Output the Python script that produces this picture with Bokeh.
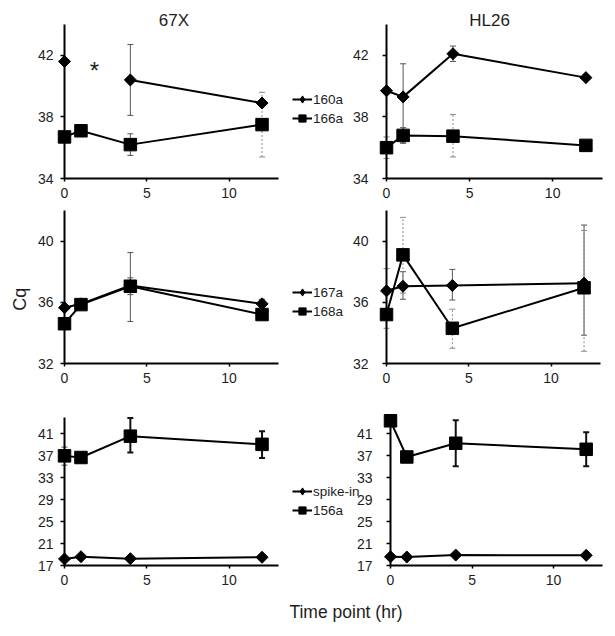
import math
from bokeh.plotting import figure
from bokeh.models import (ColumnDataSource, Whisker, TeeHead, Legend, LegendItem,
                          Label, FixedTicker, Range1d)
from bokeh.layouts import column, row
from bokeh.embed import file_html
from bokeh.resources import INLINE

NaN = float("nan")

# ---------------- data ----------------
time_hr = [0, 1, 4, 12]
x_ticks = [0, 5, 10]
strains = ["67X", "HL26"]

# row 1: 160a / 166a
cq_67X_160a = [41.6, NaN, 40.4, 38.9]
lo_67X_160a = [NaN, NaN, 38.1, NaN]
hi_67X_160a = [NaN, NaN, 42.7, NaN]
cq_67X_166a = [36.7, 37.1, 36.2, 37.5]
lo_67X_166a = [NaN, 36.8, 35.5, 35.4]
hi_67X_166a = [NaN, 37.45, 36.9, 39.6]
cq_HL26_160a = [39.7, 39.3, 42.1, 40.55]
lo_HL26_160a = [NaN, 36.3, 41.6, NaN]
hi_HL26_160a = [NaN, 41.45, 42.6, NaN]
cq_HL26_166a = [36.0, 36.8, 36.75, 36.15]
lo_HL26_166a = [35.3, 36.3, 35.4, NaN]
hi_HL26_166a = [36.7, 37.3, 38.15, NaN]

# row 2: 167a / 168a
cq_67X_167a = [35.65, 35.9, 37.1, 35.9]
lo_67X_167a = [NaN, NaN, 36.5, 35.6]
hi_67X_167a = [NaN, NaN, 37.6, 36.2]
cq_67X_168a = [34.6, 35.85, 37.05, 35.2]
lo_67X_168a = [NaN, NaN, 34.75, NaN]
hi_67X_168a = [NaN, NaN, 39.25, NaN]
cq_HL26_167a = [36.75, 37.05, 37.1, 37.25]
lo_HL26_167a = [NaN, 36.2, 36.15, 33.85]
hi_HL26_167a = [NaN, 38.0, 38.15, 41.05]
cq_HL26_168a = [35.2, 39.1, 34.3, 36.95]
lo_HL26_168a = [34.3, 36.6, 33.0, 32.8]
hi_HL26_168a = [38.2, 41.55, 35.55, 40.7]

# row 3: spike-in / 156a
cq_67X_spike = [18.2, 18.6, 18.25, 18.5]
cq_67X_156a = [37.0, 36.7, 40.6, 39.1]
lo_67X_156a = [35.3, NaN, 37.6, 36.6]
hi_67X_156a = [38.6, NaN, 43.9, 41.5]
cq_HL26_spike = [18.6, 18.55, 18.9, 18.85]
cq_HL26_156a = [43.4, 36.8, 39.3, 38.2]
lo_HL26_156a = [NaN, NaN, 35.1, 35.1]
hi_HL26_156a = [NaN, NaN, 43.5, 41.3]

y_ticks_row1 = [34, 38, 42]
y_ticks_row2 = [32, 36, 40]
y_ticks_row3 = [17, 21, 25, 29, 33, 37, 41]

# error-bar drawing styles (per time point)
err_style = {
    ("67X", "166a"): ["thin", "thin", "thin", "dotted"],
    ("67X", "160a"): ["thin"] * 4,
    ("HL26", "160a"): ["thin"] * 4,
    ("HL26", "166a"): ["dotted", "thin", "dotted", "thin"],
    ("67X", "167a"): ["thin"] * 4,
    ("67X", "168a"): ["thin"] * 4,
    ("HL26", "167a"): ["thin"] * 4,
    ("HL26", "168a"): ["dotted"] * 4,
    ("67X", "156a"): ["thin", "thick", "thick", "thick"],
    ("HL26", "156a"): ["thick"] * 4,
}
STYLES = {
    "thin": dict(color="#555555", width=1, dash="solid"),
    "dotted": dict(color="#888888", width=1, dash="2 2"),
    "thick": dict(color="#111111", width=2, dash="solid"),
}

FONT = "Liberation Sans"
TXT = "#1e1e1e"


def make_panel(fig_l, fig_r, fig_t, fig_b, ax_x0, ax_x1, ax_yt, ax_yb,
               y_min, y_max, y_ticks, standoff):
    """Whole canvas is the frame; axes are pinned at x=0 / y=y_min."""
    x_min, x_max = 0, 13
    kx = (x_max - x_min) / (ax_x1 - ax_x0)
    ky = (y_max - y_min) / (ax_yb - ax_yt)
    xs = x_min - (ax_x0 - fig_l) * kx
    xe = x_max + (fig_r - ax_x1) * kx
    ys = y_min - (fig_b - ax_yb) * ky
    ye = y_max + (ax_yt - fig_t) * ky
    p = figure(width=fig_r - fig_l, height=fig_b - fig_t,
               x_range=Range1d(xs, xe), y_range=Range1d(ys, ye),
               min_border=0, output_backend="svg", toolbar_location=None)
    p.xgrid.visible = False
    p.ygrid.visible = False
    p.outline_line_color = None
    xa = p.xaxis[0]
    xa.ticker = FixedTicker(ticks=x_ticks, minor_ticks=[])
    xa.bounds = (x_min, x_max)
    xa.fixed_location = y_min
    ya = p.yaxis[0]
    ya.ticker = FixedTicker(ticks=y_ticks, minor_ticks=[])
    ya.bounds = (y_min, y_max)
    ya.fixed_location = 0
    for ax, so in ((xa, 6), (ya, standoff)):
        ax.axis_line_width = 2
        ax.axis_line_color = "black"
        ax.major_tick_line_color = "black"
        ax.major_tick_line_width = 1.5
        ax.major_tick_in = 0
        ax.major_tick_out = 4 if ax is ya else 3
        ax.minor_tick_line_color = None
        ax.major_label_standoff = so
        ax.major_label_text_font = FONT
        ax.major_label_text_font_size = "14px"
        ax.major_label_text_color = TXT
    return p


def add_err(p, strain, name, lo, hi):
    styles = err_style[(strain, name)]
    for key, st in STYLES.items():
        xs, ls, hs = [], [], []
        for t, l, h, s in zip(time_hr, lo, hi, styles):
            if s == key and not (math.isnan(l) or math.isnan(h)):
                xs.append(t); ls.append(l); hs.append(h)
        if not xs:
            continue
        src = ColumnDataSource(dict(x=xs, lo=ls, hi=hs))
        w = Whisker(source=src, base="x", lower="lo", upper="hi", dimension="height",
                    line_color=st["color"], line_width=st["width"], line_dash=st["dash"],
                    upper_head=TeeHead(size=6, line_color=st["color"], line_width=st["width"]),
                    lower_head=TeeHead(size=6, line_color=st["color"], line_width=st["width"]),
                    level="underlay")
        p.add_layout(w)


def add_series(p, vals, kind):
    lr = p.line(time_hr, vals, line_color="black", line_width=2)
    if kind == "diamond":
        # narrow diamond (used by the legend swatch), covered by a wider rotated square
        sr = p.scatter(time_hr, vals, marker="diamond", size=10,
                       fill_color="black", line_color="black")
        p.scatter(time_hr, vals, marker="square", angle=math.pi / 4, size=8.5,
                  fill_color="black", line_color="black")
    else:
        sr = p.scatter(time_hr, vals, marker="square", size=12.5,
                       fill_color="black", line_color="black")
    return lr, sr


def add_legend(p, items, vx, vy):
    lg = Legend(items=[LegendItem(label=n, renderers=list(r)) for n, r in items],
                location=(vx, vy), glyph_width=20, glyph_height=18, label_height=18,
                label_standoff=1, spacing=1, padding=0, margin=0,
                border_line_color=None, background_fill_alpha=0,
                label_text_font=FONT, label_text_font_size="13.5px",
                label_text_color=TXT)
    p.add_layout(lg)


def title(p, x, y, text):
    p.add_layout(Label(x=x, y=y, text=text, text_align="center",
                       text_baseline="alphabetic", y_offset=4,
                       text_font=FONT, text_font_size="17px", text_color=TXT))


L = 288    # x where the right column starts
R = 612    # right edge of the right column

# ---------------- row 1 ----------------
tl = make_panel(0, L, 0, 206, 64, 278, 24, 178, 34, 44, y_ticks_row1, 7)
tr = make_panel(L, R, 0, 206, 386, 602, 24, 178, 34, 44, y_ticks_row1, 14)
add_err(tl, "67X", "160a", lo_67X_160a, hi_67X_160a)
add_err(tl, "67X", "166a", lo_67X_166a, hi_67X_166a)
add_series(tl, cq_67X_160a, "diamond")
add_series(tl, cq_67X_166a, "square")
add_err(tr, "HL26", "160a", lo_HL26_160a, hi_HL26_160a)
add_err(tr, "HL26", "166a", lo_HL26_166a, hi_HL26_166a)
r160 = add_series(tr, cq_HL26_160a, "diamond")
r166 = add_series(tr, cq_HL26_166a, "square")
add_legend(tr, [("160a", r160), ("166a", r166)], 292 - L, 206 - 127)
title(tl, 6.65, 44, strains[0])
title(tr, 6.2, 44, strains[1])
tl.add_layout(Label(x=1.82, y=41.0, text="*", text_align="center",
                    text_baseline="alphabetic", text_font=FONT,
                    text_font_size="24px", text_color=TXT))

# ---------------- row 2 ----------------
ml = make_panel(0, L, 206, 391, 64, 278, 210, 363, 32, 42, y_ticks_row2, 7)
mr = make_panel(L, R, 206, 391, 386, 600, 210, 363, 32, 42, y_ticks_row2, 14)
add_err(ml, "67X", "167a", lo_67X_167a, hi_67X_167a)
add_err(ml, "67X", "168a", lo_67X_168a, hi_67X_168a)
add_series(ml, cq_67X_167a, "diamond")
add_series(ml, cq_67X_168a, "square")
add_err(mr, "HL26", "167a", lo_HL26_167a, hi_HL26_167a)
add_err(mr, "HL26", "168a", lo_HL26_168a, hi_HL26_168a)
r167 = add_series(mr, cq_HL26_167a, "diamond")
r168 = add_series(mr, cq_HL26_168a, "square")
add_legend(mr, [("167a", r167), ("168a", r168)], 292 - L, 391 - 320)
ml.add_layout(Label(x=0, y=36.2, x_offset=-45, text="Cq", angle=math.pi / 2,
                    text_align="center", text_baseline="alphabetic",
                    text_font=FONT, text_font_size="18px", text_color=TXT))

# ---------------- row 3 ----------------
bl = make_panel(0, L, 391, 593, 64, 278, 417, 565, 17, 44, y_ticks_row3, 7)
br = make_panel(L, R, 391, 593, 390, 602, 417, 565, 17, 44, y_ticks_row3, 14)
add_err(bl, "67X", "156a", lo_67X_156a, hi_67X_156a)
add_series(bl, cq_67X_spike, "diamond")
add_series(bl, cq_67X_156a, "square")
add_err(br, "HL26", "156a", lo_HL26_156a, hi_HL26_156a)
rsp = add_series(br, cq_HL26_spike, "diamond")
r156 = add_series(br, cq_HL26_156a, "square")
add_legend(br, [("spike-in", rsp), ("156a", r156)], 292 - L, 593 - 519)

# ---------------- x label ----------------
XB = 632
xl = figure(width=R, height=XB - 593, x_range=Range1d(0, R), y_range=Range1d(0, XB - 593),
            x_axis_location=None, y_axis_location=None, min_border=0,
            output_backend="svg", toolbar_location=None)
xl.grid.visible = False
xl.outline_line_color = None
xl.add_layout(Label(x=345.5, y=XB - 611, text="Time point (hr)", text_align="center",
                    text_baseline="alphabetic", text_font=FONT,
                    text_font_size="17.5px", text_color=TXT))

layout = column(row(tl, tr), row(ml, mr), row(bl, br), xl)

with open("out.html", "w") as f:
    f.write(file_html(layout, INLINE))
